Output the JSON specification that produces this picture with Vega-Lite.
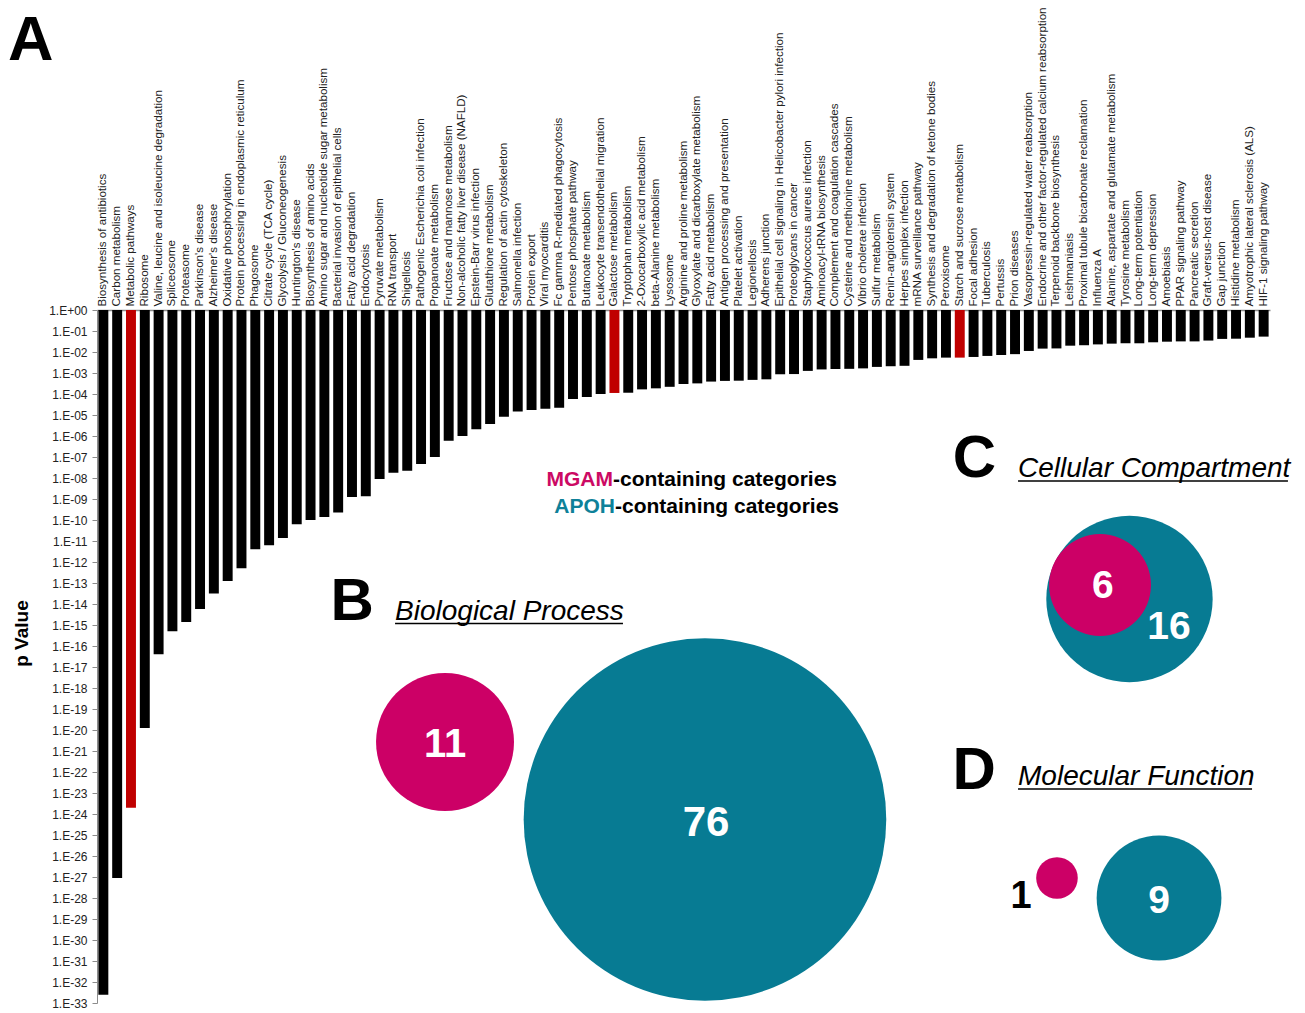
{
"$schema":"https://vega.github.io/schema/vega-lite/v6.json",
"width":1173,"height":693,
"autosize":{"type":"none"},
"padding":{"left":97,"top":310,"right":35,"bottom":10},
"background":"white",
"config":{"font":"Liberation Sans","view":{"stroke":null}},
"datasets":{
"kegg":[
{"category":"Biosynthesis of antibiotics","p":2.5e-33,"group":"other"},
{"category":"Carbon metabolism","p":8.9e-28,"group":"other"},
{"category":"Metabolic pathways","p":2.0e-24,"group":"MGAM"},
{"category":"Ribosome","p":1.26e-20,"group":"other"},
{"category":"Valine, leucine and isoleucine degradation","p":4.0e-17,"group":"other"},
{"category":"Spliceosome","p":5.0e-16,"group":"other"},
{"category":"Proteasome","p":1.4e-15,"group":"other"},
{"category":"Parkinson's disease","p":5.8e-15,"group":"other"},
{"category":"Alzheimer's disease","p":3.2e-14,"group":"other"},
{"category":"Oxidative phosphorylation","p":1.26e-13,"group":"other"},
{"category":"Protein processing in endoplasmic reticulum","p":5.0e-13,"group":"other"},
{"category":"Phagosome","p":4.0e-12,"group":"other"},
{"category":"Citrate cycle (TCA cycle)","p":6.3e-12,"group":"other"},
{"category":"Glycolysis / Gluconeogenesis","p":1.4e-11,"group":"other"},
{"category":"Huntington's disease","p":6.3e-11,"group":"other"},
{"category":"Biosynthesis of amino acids","p":1.0e-10,"group":"other"},
{"category":"Amino sugar and nucleotide sugar metabolism","p":1.4e-10,"group":"other"},
{"category":"Bacterial invasion of epithelial cells","p":2.3e-10,"group":"other"},
{"category":"Fatty acid degradation","p":1.26e-9,"group":"other"},
{"category":"Endocytosis","p":1.35e-9,"group":"other"},
{"category":"Pyruvate metabolism","p":8.9e-9,"group":"other"},
{"category":"RNA transport","p":1.8e-8,"group":"other"},
{"category":"Shigellosis","p":2.2e-8,"group":"other"},
{"category":"Pathogenic Escherichia coli infection","p":4.7e-8,"group":"other"},
{"category":"Propanoate metabolism","p":1.0e-7,"group":"other"},
{"category":"Fructose and mannose metabolism","p":5.9e-7,"group":"other"},
{"category":"Non-alcoholic fatty liver disease (NAFLD)","p":1.0e-6,"group":"other"},
{"category":"Epstein-Barr virus infection","p":2.1e-6,"group":"other"},
{"category":"Glutathione metabolism","p":3.7e-6,"group":"other"},
{"category":"Regulation of actin cytoskeleton","p":8.3e-6,"group":"other"},
{"category":"Salmonella infection","p":1.45e-5,"group":"other"},
{"category":"Protein export","p":1.74e-5,"group":"other"},
{"category":"Viral myocarditis","p":2.0e-5,"group":"other"},
{"category":"Fc gamma R-mediated phagocytosis","p":2.2e-5,"group":"other"},
{"category":"Pentose phosphate pathway","p":5.8e-5,"group":"other"},
{"category":"Butanoate metabolism","p":7.2e-5,"group":"other"},
{"category":"Leukocyte transendothelial migration","p":1.0e-4,"group":"other"},
{"category":"Galactose metabolism","p":1.12e-4,"group":"MGAM"},
{"category":"Tryptophan metabolism","p":1.15e-4,"group":"other"},
{"category":"2-Oxocarboxylic acid metabolism","p":1.66e-4,"group":"other"},
{"category":"beta-Alanine metabolism","p":1.86e-4,"group":"other"},
{"category":"Lysosome","p":2.2e-4,"group":"other"},
{"category":"Arginine and proline metabolism","p":3.0e-4,"group":"other"},
{"category":"Glyoxylate and dicarboxylate metabolism","p":3.2e-4,"group":"other"},
{"category":"Fatty acid metabolism","p":3.9e-4,"group":"other"},
{"category":"Antigen processing and presentation","p":4.2e-4,"group":"other"},
{"category":"Platelet activation","p":4.3e-4,"group":"other"},
{"category":"Legionellosis","p":4.7e-4,"group":"other"},
{"category":"Adherens junction","p":5.0e-4,"group":"other"},
{"category":"Epithelial cell signaling in Helicobacter pylori infection","p":8.7e-4,"group":"other"},
{"category":"Proteoglycans in cancer","p":8.9e-4,"group":"other"},
{"category":"Staphylococcus aureus infection","p":1.26e-3,"group":"other"},
{"category":"Aminoacyl-tRNA biosynthesis","p":1.48e-3,"group":"other"},
{"category":"Complement and coagulation cascades","p":1.55e-3,"group":"other"},
{"category":"Cysteine and methionine metabolism","p":1.58e-3,"group":"other"},
{"category":"Vibrio cholerae infection","p":1.66e-3,"group":"other"},
{"category":"Sulfur metabolism","p":1.95e-3,"group":"other"},
{"category":"Renin-angiotensin system","p":2.1e-3,"group":"other"},
{"category":"Herpes simplex infection","p":2.2e-3,"group":"other"},
{"category":"mRNA surveillance pathway","p":4.2e-3,"group":"other"},
{"category":"Synthesis and degradation of ketone bodies","p":5.0e-3,"group":"other"},
{"category":"Peroxisome","p":5.4e-3,"group":"other"},
{"category":"Starch and sucrose metabolism","p":5.4e-3,"group":"MGAM"},
{"category":"Focal adhesion","p":5.8e-3,"group":"other"},
{"category":"Tuberculosis","p":6.5e-3,"group":"other"},
{"category":"Pertussis","p":7.2e-3,"group":"other"},
{"category":"Prion diseases","p":7.9e-3,"group":"other"},
{"category":"Vasopressin-regulated water reabsorption","p":1.12e-2,"group":"other"},
{"category":"Endocrine and other factor-regulated calcium reabsorption","p":1.45e-2,"group":"other"},
{"category":"Terpenoid backbone biosynthesis","p":1.48e-2,"group":"other"},
{"category":"Leishmaniasis","p":2.0e-2,"group":"other"},
{"category":"Proximal tubule bicarbonate reclamation","p":2.1e-2,"group":"other"},
{"category":"Influenza A","p":2.3e-2,"group":"other"},
{"category":"Alanine, aspartate and glutamate metabolism","p":2.5e-2,"group":"other"},
{"category":"Tyrosine metabolism","p":2.6e-2,"group":"other"},
{"category":"Long-term potentiation","p":2.6e-2,"group":"other"},
{"category":"Long-term depression","p":2.9e-2,"group":"other"},
{"category":"Amoebiasis","p":3.1e-2,"group":"other"},
{"category":"PPAR signaling pathway","p":3.2e-2,"group":"other"},
{"category":"Pancreatic secretion","p":3.2e-2,"group":"other"},
{"category":"Graft-versus-host disease","p":3.5e-2,"group":"other"},
{"category":"Gap junction","p":4.2e-2,"group":"other"},
{"category":"Histidine metabolism","p":4.3e-2,"group":"other"},
{"category":"Amyotrophic lateral sclerosis (ALS)","p":4.8e-2,"group":"other"},
{"category":"HIF-1 signaling pathway","p":5.4e-2,"group":"other"}
],
"go":[
{"panel":"B","gene":"MGAM","count":11},
{"panel":"B","gene":"APOH","count":76},
{"panel":"C","gene":"MGAM","count":6},
{"panel":"C","gene":"APOH","count":16},
{"panel":"D","gene":"MGAM","count":1},
{"panel":"D","gene":"APOH","count":9}
]
},
"layer":[
{
"data":{"name":"kegg"},
"mark":{"type":"bar"},
"encoding":{
"x":{"field":"category","type":"nominal","sort":null,"scale":{"paddingInner":0.28,"paddingOuter":0.1},
"axis":{"orient":"top","title":null,"labelAngle":270,"labelAlign":"left","labelBaseline":"middle","ticks":false,"labelPadding":4,"labelFontSize":11.6,"labelColor":"#222","labelLimit":400,"domainColor":"#8c8c8c","domainWidth":1.5,"labelOverlap":false}},
"y":{"field":"p","type":"quantitative","scale":{"type":"log","domain":[1e-33,1],"nice":false},
"axis":{"orient":"left","grid":false,"values":[1,1e-1,1e-2,1e-3,1e-4,1e-5,1e-6,1e-7,1e-8,1e-9,1e-10,1e-11,1e-12,1e-13,1e-14,1e-15,1e-16,1e-17,1e-18,1e-19,1e-20,1e-21,1e-22,1e-23,1e-24,1e-25,1e-26,1e-27,1e-28,1e-29,1e-30,1e-31,1e-32,1e-33],
"labelExpr":"'1.E' + (datum.value >= 0.5 ? '+00' : '-' + (round(-log(datum.value)/LN10) < 10 ? '0' : '') + round(-log(datum.value)/LN10))",
"labelFontSize":12,"labelColor":"#222","labelPadding":5,"tickSize":5,"tickColor":"#8c8c8c","domainColor":"#8c8c8c","labelOverlap":false,"labelFlush":false,
"title":"p Value","titleFontSize":19,"titleFontWeight":"bold","titleColor":"#000","titleX":-76,"titleY":323,"titleAngle":270,"titleAlign":"center","titleBaseline":"middle"}},
"y2":{"datum":1},
"color":{"field":"group","type":"nominal","scale":{"domain":["MGAM","other"],"range":["#C00000","#000000"]},"legend":null}
}
},
{
"layer":[
{"data":{"name":"go"},"transform":[{"filter":"datum.panel==='B' && datum.gene==='MGAM'"}],"mark":{"type":"circle","color":"#CC0066","opacity":1},
"encoding":{"x":{"datum":29.67,"type":"quantitative","scale":{"domain":[0,100],"nice":false,"zero":false},"axis":null},"y":{"datum":62.34,"type":"quantitative","scale":{"domain":[0,100],"nice":false,"zero":false,"reverse":true},"axis":null},"size":{"field":"count","type":"quantitative","scale":{"domain":[0,76],"range":[0,131480]},"legend":null}}},
{"data":{"name":"go"},"transform":[{"filter":"datum.panel==='B' && datum.gene==='APOH'"}],"mark":{"type":"circle","color":"#077B93","opacity":1},
"encoding":{"x":{"datum":51.83,"type":"quantitative","scale":{"domain":[0,100],"nice":false,"zero":false},"axis":null},"y":{"datum":73.52,"type":"quantitative","scale":{"domain":[0,100],"nice":false,"zero":false,"reverse":true},"axis":null},"size":{"field":"count","type":"quantitative","scale":{"domain":[0,76],"range":[0,131480]},"legend":null}}},
{"data":{"name":"go"},"transform":[{"filter":"datum.panel==='C' && datum.gene==='APOH'"}],"mark":{"type":"circle","color":"#077B93","opacity":1},
"encoding":{"x":{"datum":88.02,"type":"quantitative","scale":{"domain":[0,100],"nice":false,"zero":false},"axis":null},"y":{"datum":41.70,"type":"quantitative","scale":{"domain":[0,100],"nice":false,"zero":false,"reverse":true},"axis":null},"size":{"field":"count","type":"quantitative","scale":{"domain":[0,76],"range":[0,131480]},"legend":null}}},
{"data":{"name":"go"},"transform":[{"filter":"datum.panel==='C' && datum.gene==='MGAM'"}],"mark":{"type":"circle","color":"#CC0066","opacity":1},
"encoding":{"x":{"datum":85.51,"type":"quantitative","scale":{"domain":[0,100],"nice":false,"zero":false},"axis":null},"y":{"datum":39.68,"type":"quantitative","scale":{"domain":[0,100],"nice":false,"zero":false,"reverse":true},"axis":null},"size":{"field":"count","type":"quantitative","scale":{"domain":[0,76],"range":[0,131480]},"legend":null}}},
{"data":{"name":"go"},"transform":[{"filter":"datum.panel==='D' && datum.gene==='MGAM'"}],"mark":{"type":"circle","color":"#CC0066","opacity":1},
"encoding":{"x":{"datum":81.84,"type":"quantitative","scale":{"domain":[0,100],"nice":false,"zero":false},"axis":null},"y":{"datum":81.96,"type":"quantitative","scale":{"domain":[0,100],"nice":false,"zero":false,"reverse":true},"axis":null},"size":{"field":"count","type":"quantitative","scale":{"domain":[0,76],"range":[0,131480]},"legend":null}}},
{"data":{"name":"go"},"transform":[{"filter":"datum.panel==='D' && datum.gene==='APOH'"}],"mark":{"type":"circle","color":"#077B93","opacity":1},
"encoding":{"x":{"datum":90.54,"type":"quantitative","scale":{"domain":[0,100],"nice":false,"zero":false},"axis":null},"y":{"datum":84.85,"type":"quantitative","scale":{"domain":[0,100],"nice":false,"zero":false,"reverse":true},"axis":null},"size":{"field":"count","type":"quantitative","scale":{"domain":[0,76],"range":[0,131480]},"legend":null}}},

{"data":{"name":"go"},"transform":[{"filter":"datum.panel==='B' && datum.gene==='MGAM'"}],"mark":{"type":"text","color":"white","fontSize":40,"fontWeight":"bold","align":"center","baseline":"alphabetic"},
"encoding":{"text":{"field":"count"},"x":{"datum":29.67,"type":"quantitative","scale":{"domain":[0,100],"nice":false,"zero":false},"axis":null},"y":{"datum":64.50,"type":"quantitative","scale":{"domain":[0,100],"nice":false,"zero":false,"reverse":true},"axis":null}}},
{"data":{"name":"go"},"transform":[{"filter":"datum.panel==='B' && datum.gene==='APOH'"}],"mark":{"type":"text","color":"white","fontSize":42,"fontWeight":"bold","align":"center","baseline":"alphabetic"},
"encoding":{"text":{"field":"count"},"x":{"datum":51.92,"type":"quantitative","scale":{"domain":[0,100],"nice":false,"zero":false},"axis":null},"y":{"datum":75.90,"type":"quantitative","scale":{"domain":[0,100],"nice":false,"zero":false,"reverse":true},"axis":null}}},
{"data":{"name":"go"},"transform":[{"filter":"datum.panel==='C' && datum.gene==='MGAM'"}],"mark":{"type":"text","color":"white","fontSize":39,"fontWeight":"bold","align":"center","baseline":"alphabetic"},
"encoding":{"text":{"field":"count"},"x":{"datum":85.76,"type":"quantitative","scale":{"domain":[0,100],"nice":false,"zero":false},"axis":null},"y":{"datum":41.56,"type":"quantitative","scale":{"domain":[0,100],"nice":false,"zero":false,"reverse":true},"axis":null}}},
{"data":{"name":"go"},"transform":[{"filter":"datum.panel==='C' && datum.gene==='APOH'"}],"mark":{"type":"text","color":"white","fontSize":39,"fontWeight":"bold","align":"center","baseline":"alphabetic"},
"encoding":{"text":{"field":"count"},"x":{"datum":91.39,"type":"quantitative","scale":{"domain":[0,100],"nice":false,"zero":false},"axis":null},"y":{"datum":47.47,"type":"quantitative","scale":{"domain":[0,100],"nice":false,"zero":false,"reverse":true},"axis":null}}},
{"data":{"name":"go"},"transform":[{"filter":"datum.panel==='D' && datum.gene==='MGAM'"}],"mark":{"type":"text","color":"black","fontSize":38,"fontWeight":"bold","align":"center","baseline":"alphabetic"},
"encoding":{"text":{"field":"count"},"x":{"datum":78.77,"type":"quantitative","scale":{"domain":[0,100],"nice":false,"zero":false},"axis":null},"y":{"datum":86.29,"type":"quantitative","scale":{"domain":[0,100],"nice":false,"zero":false,"reverse":true},"axis":null}}},
{"data":{"name":"go"},"transform":[{"filter":"datum.panel==='D' && datum.gene==='APOH'"}],"mark":{"type":"text","color":"white","fontSize":39,"fontWeight":"bold","align":"center","baseline":"alphabetic"},
"encoding":{"text":{"field":"count"},"x":{"datum":90.54,"type":"quantitative","scale":{"domain":[0,100],"nice":false,"zero":false},"axis":null},"y":{"datum":87.01,"type":"quantitative","scale":{"domain":[0,100],"nice":false,"zero":false,"reverse":true},"axis":null}}},

{"data":{"values":[{}]},"mark":{"type":"text","text":"A","fontSize":63,"fontWeight":"bold","align":"left","baseline":"alphabetic","color":"#000"},
"encoding":{"x":{"datum":-7.59,"type":"quantitative","scale":{"domain":[0,100],"nice":false,"zero":false},"axis":null},"y":{"datum":-36.08,"type":"quantitative","scale":{"domain":[0,100],"nice":false,"zero":false,"reverse":true},"axis":null}}},
{"data":{"values":[{}]},"mark":{"type":"text","text":"B","fontSize":60,"fontWeight":"bold","align":"left","baseline":"alphabetic","color":"#000"},
"encoding":{"x":{"datum":19.91,"type":"quantitative","scale":{"domain":[0,100],"nice":false,"zero":false},"axis":null},"y":{"datum":44.73,"type":"quantitative","scale":{"domain":[0,100],"nice":false,"zero":false,"reverse":true},"axis":null}}},
{"data":{"values":[{}]},"mark":{"type":"text","text":"C","fontSize":60,"fontWeight":"bold","align":"left","baseline":"alphabetic","color":"#000"},
"encoding":{"x":{"datum":72.95,"type":"quantitative","scale":{"domain":[0,100],"nice":false,"zero":false},"axis":null},"y":{"datum":24.10,"type":"quantitative","scale":{"domain":[0,100],"nice":false,"zero":false,"reverse":true},"axis":null}}},
{"data":{"values":[{}]},"mark":{"type":"text","text":"D","fontSize":60,"fontWeight":"bold","align":"left","baseline":"alphabetic","color":"#000"},
"encoding":{"x":{"datum":72.93,"type":"quantitative","scale":{"domain":[0,100],"nice":false,"zero":false},"axis":null},"y":{"datum":69.12,"type":"quantitative","scale":{"domain":[0,100],"nice":false,"zero":false,"reverse":true},"axis":null}}},

{"data":{"values":[{}]},"mark":{"type":"text","text":"Biological Process","fontSize":28,"fontStyle":"italic","align":"left","baseline":"alphabetic","color":"#000"},
"encoding":{"x":{"datum":25.41,"type":"quantitative","scale":{"domain":[0,100],"nice":false,"zero":false},"axis":null},"y":{"datum":44.73,"type":"quantitative","scale":{"domain":[0,100],"nice":false,"zero":false,"reverse":true},"axis":null}}},
{"data":{"values":[{}]},"mark":{"type":"text","text":"Cellular Compartment","fontSize":28,"fontStyle":"italic","align":"left","baseline":"alphabetic","color":"#000"},
"encoding":{"x":{"datum":78.52,"type":"quantitative","scale":{"domain":[0,100],"nice":false,"zero":false},"axis":null},"y":{"datum":24.10,"type":"quantitative","scale":{"domain":[0,100],"nice":false,"zero":false,"reverse":true},"axis":null}}},
{"data":{"values":[{}]},"mark":{"type":"text","text":"Molecular Function","fontSize":28,"fontStyle":"italic","align":"left","baseline":"alphabetic","color":"#000"},
"encoding":{"x":{"datum":78.52,"type":"quantitative","scale":{"domain":[0,100],"nice":false,"zero":false},"axis":null},"y":{"datum":68.54,"type":"quantitative","scale":{"domain":[0,100],"nice":false,"zero":false,"reverse":true},"axis":null}}},
{"data":{"values":[{}]},"mark":{"type":"rule","strokeWidth":1.5,"color":"#000"},
"encoding":{"x":{"datum":25.41,"type":"quantitative","scale":{"domain":[0,100],"nice":false,"zero":false},"axis":null},"x2":{"datum":44.84},"y":{"datum":45.24,"type":"quantitative","scale":{"domain":[0,100],"nice":false,"zero":false,"reverse":true},"axis":null}}},
{"data":{"values":[{}]},"mark":{"type":"rule","strokeWidth":1.5,"color":"#000"},
"encoding":{"x":{"datum":78.52,"type":"quantitative","scale":{"domain":[0,100],"nice":false,"zero":false},"axis":null},"x2":{"datum":101.53},"y":{"datum":24.68,"type":"quantitative","scale":{"domain":[0,100],"nice":false,"zero":false,"reverse":true},"axis":null}}},
{"data":{"values":[{}]},"mark":{"type":"rule","strokeWidth":1.5,"color":"#000"},
"encoding":{"x":{"datum":78.52,"type":"quantitative","scale":{"domain":[0,100],"nice":false,"zero":false},"axis":null},"x2":{"datum":98.47},"y":{"datum":69.12,"type":"quantitative","scale":{"domain":[0,100],"nice":false,"zero":false,"reverse":true},"axis":null}}},

{"data":{"values":[{}]},"mark":{"type":"text","text":"MGAM","fontSize":21,"fontWeight":"bold","align":"right","baseline":"alphabetic","color":"#CC0A64"},
"encoding":{"x":{"datum":43.99,"type":"quantitative","scale":{"domain":[0,100],"nice":false,"zero":false},"axis":null},"y":{"datum":25.40,"type":"quantitative","scale":{"domain":[0,100],"nice":false,"zero":false,"reverse":true},"axis":null}}},
{"data":{"values":[{}]},"mark":{"type":"text","text":"-containing categories","fontSize":21,"fontWeight":"bold","align":"left","baseline":"alphabetic","color":"#000"},
"encoding":{"x":{"datum":43.99,"type":"quantitative","scale":{"domain":[0,100],"nice":false,"zero":false},"axis":null},"y":{"datum":25.40,"type":"quantitative","scale":{"domain":[0,100],"nice":false,"zero":false,"reverse":true},"axis":null}}},
{"data":{"values":[{}]},"mark":{"type":"text","text":"APOH","fontSize":21,"fontWeight":"bold","align":"right","baseline":"alphabetic","color":"#0E8199"},
"encoding":{"x":{"datum":44.16,"type":"quantitative","scale":{"domain":[0,100],"nice":false,"zero":false},"axis":null},"y":{"datum":29.25,"type":"quantitative","scale":{"domain":[0,100],"nice":false,"zero":false,"reverse":true},"axis":null}}},
{"data":{"values":[{}]},"mark":{"type":"text","text":"-containing categories","fontSize":21,"fontWeight":"bold","align":"left","baseline":"alphabetic","color":"#000"},
"encoding":{"x":{"datum":44.16,"type":"quantitative","scale":{"domain":[0,100],"nice":false,"zero":false},"axis":null},"y":{"datum":29.25,"type":"quantitative","scale":{"domain":[0,100],"nice":false,"zero":false,"reverse":true},"axis":null}}}
]
}
],
"resolve":{"scale":{"x":"independent","y":"independent","color":"independent","size":"independent"},"axis":{"x":"independent","y":"independent"}}
}
